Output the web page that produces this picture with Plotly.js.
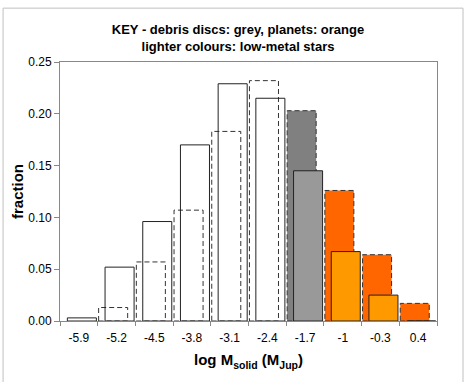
<!DOCTYPE html>
<html>
<head>
<meta charset="utf-8">
<script src="https://cdn.plot.ly/plotly-3.0.1.min.js"></script>
<style>
  body { margin: 0; background: #fff; }
  #graph { width: 476px; height: 382px; }
</style>
</head>
<body>
<div id="graph"></div>
<script>
// log M_solid bins (M_Jup)
const bins = ['-5.9', '-5.2', '-4.5', '-3.8', '-3.1', '-2.4', '-1.7', '-1', '-0.3', '0.4'];

// solid outline series
const solidFrac = [0.003, 0.052, 0.096, 0.170, 0.229, 0.215, 0.145, 0.067, 0.025, 0];
const solidColors = ['rgba(0,0,0,0)', 'rgba(0,0,0,0)', 'rgba(0,0,0,0)', 'rgba(0,0,0,0)', 'rgba(0,0,0,0)',
                     'rgba(0,0,0,0)', '#999999', '#ff9900', '#ff9900', '#ff9900'];

// dashed outline series
const dashedFrac = [0, 0.013, 0.057, 0.107, 0.183, 0.232, 0.203, 0.126, 0.064, 0.017];
const dashedColors = ['rgba(0,0,0,0)', 'rgba(0,0,0,0)', 'rgba(0,0,0,0)', 'rgba(0,0,0,0)', 'rgba(0,0,0,0)',
                      'rgba(0,0,0,0)', '#808080', '#ff6600', '#ff6600', '#ff6600'];

const barW = 0.77;
const solidShift = 0.08;
const dashedShift = -0.09;

const solidTrace = {
  type: 'bar',
  x: bins,
  y: solidFrac,
  width: barW,
  offset: -barW / 2 + solidShift,
  marker: { color: solidColors, line: { color: '#222222', width: 1 } },
  hoverinfo: 'x+y'
};

// dashed bars drawn as rectangles on the data axes (plotly bars have no dashed outline)
const shapes = [];
dashedFrac.forEach(function (v, i) {
  if (v <= 0) return;
  shapes.push({
    type: 'rect', xref: 'x', yref: 'y', layer: 'below',
    x0: i - barW / 2 + dashedShift, x1: i + barW / 2 + dashedShift,
    y0: 0, y1: v,
    fillcolor: dashedColors[i],
    line: { color: '#333333', width: 1, dash: '5px,3px' }
  });
});

// outer chart frame
shapes.push({
  type: 'rect', xref: 'paper', yref: 'paper', layer: 'above',
  x0: -0.151, x1: 1.069, y0: -0.26, y1: 1.208,
  line: { color: '#c0c0c0', width: 1 }, fillcolor: 'rgba(0,0,0,0)'
});

const layout = {
  width: 476,
  height: 382,
  margin: { l: 60, r: 39, t: 62, b: 61 },
  paper_bgcolor: '#ffffff',
  plot_bgcolor: '#ffffff',
  font: { family: 'Liberation Sans, Arial, sans-serif', color: '#000000', size: 12 },
  title: {
    text: '<b>KEY - debris discs: grey, planets: orange<br>lighter colours: low-metal stars</b>',
    x: 0.5, xref: 'container',
    y: 0.912, yref: 'container', yanchor: 'top',
    font: { size: 13, color: '#000000' }
  },
  showlegend: false,
  barmode: 'overlay',
  xaxis: {
    type: 'category',
    range: [-0.5, 9.5],
    tickson: 'boundaries',
    ticks: 'outside',
    ticklen: 4,
    tickcolor: '#888888',
    ticklabelstandoff: 6,
    showline: true,
    linecolor: '#888888',
    mirror: true,
    showgrid: false,
    zeroline: false,
    tickfont: { size: 12 },
    title: {
      text: '<b>log M<sub>solid</sub> (M<sub>Jup</sub>)</b>',
      font: { size: 15 },
      standoff: 10
    }
  },
  yaxis: {
    range: [0, 0.25],
    dtick: 0.05,
    tickformat: '.2f',
    ticks: 'outside',
    ticklen: 5,
    tickcolor: '#888888',
    showline: true,
    linecolor: '#888888',
    mirror: true,
    showgrid: false,
    zeroline: false,
    tickfont: { size: 12 },
    title: { text: '<b>fraction</b>', font: { size: 15 }, standoff: 0 }
  },
  shapes: shapes
};

Plotly.newPlot('graph', [solidTrace], layout, { displayModeBar: false, staticPlot: true });
</script>
</body>
</html>
